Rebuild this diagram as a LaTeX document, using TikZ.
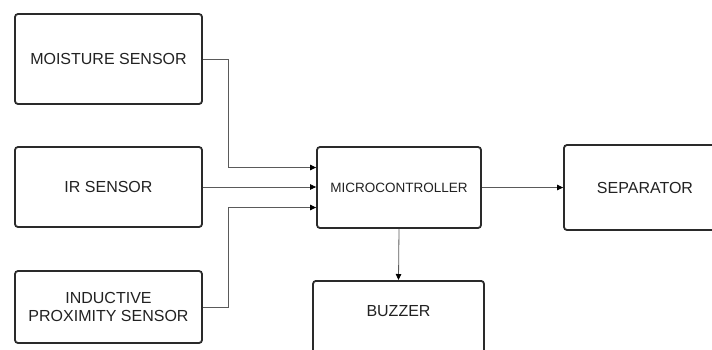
\documentclass[tikz,border=0pt]{standalone}
\usepackage{fontspec}
\setmainfont{Liberation Sans}
\usepackage{xcolor}
\usepackage{tikz}
\usetikzlibrary{shapes,arrows,positioning,calc,arrows.meta}

\definecolor{boxline}{HTML}{2A2A2A}
\definecolor{wire}{HTML}{5A5A5A}
\definecolor{labeltext}{HTML}{222222}

\begin{document}
\begin{tikzpicture}[x=1pt,y=-1pt,
    block/.style={draw=boxline, line width=1.8pt, rounded corners=3pt, fill=white,
        text=labeltext, align=center, font=\fontsize{16}{18}\selectfont},
    wirearrow/.style={draw=wire, line width=0.8pt, -{Triangle[length=6pt,width=5.5pt,color=black]}}]
    \useasboundingbox (0,0) rectangle (712,349);
    \clip (0,0) rectangle (712,349);

    % Sensors
    \node[block, minimum width=187pt, minimum height=90pt] (moist) at (108.5,59) {MOISTURE SENSOR};
    \node[block, minimum width=187pt, minimum height=80pt] (ir) at (108.5,187) {IR SENSOR};
    \node[block, minimum width=187pt, minimum height=72pt] (induct) at (108.5,307) {INDUCTIVE\\PROXIMITY SENSOR};

    % Controller and outputs
    \node[block, minimum width=164pt, minimum height=81pt, font=\fontsize{13.5}{16}\selectfont] (micro) at (399,187.5) {MICROCONTROLLER};
    \node[block, minimum width=162pt, minimum height=85pt] (sep) at (645,187.5) {SEPARATOR};
    \node[block, anchor=north, minimum width=171pt, inner sep=0pt, text height=36pt, text depth=64pt] (buzz) at (398.5,280) {BUZZER};

    % Inputs
    \draw[wirearrow] (moist.east) -- ++(25,0) |- ([yshift=20pt]micro.west);
    \draw[wirearrow] (ir.east) -- (ir.east -| micro.west);
    \draw[wirearrow] (induct.east) -- ++(25,0) |- ([yshift=-20pt]micro.west);

    % Outputs
    \draw[wirearrow] (micro.east) -- (sep.west);
    \draw[wirearrow] (micro.south) -- (buzz.north);
\end{tikzpicture}
\end{document}
